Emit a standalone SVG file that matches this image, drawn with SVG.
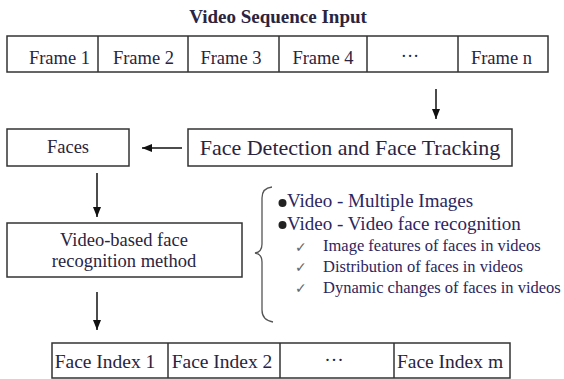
<svg xmlns="http://www.w3.org/2000/svg" width="564" height="379" viewBox="0 0 564 379">
<defs>
<marker id="ah" viewBox="0 0 10 8" refX="10" refY="4" markerWidth="10" markerHeight="8" markerUnits="userSpaceOnUse" orient="auto">
<path d="M0,0 L10,4 L0,8 Z" fill="#111"/>
</marker>
</defs>
<style>
.box{fill:#fff;stroke:#333;stroke-width:1.5}
.div{stroke:#333;stroke-width:1.5}
.t{font-family:"Liberation Serif","Times New Roman",serif;fill:#2a2440;text-anchor:middle}
.f{font-size:18.5px}
.fi{font-size:19.5px}
.l{font-family:"Liberation Serif","Times New Roman",serif;fill:#2c2660}
.c{font-family:"DejaVu Sans",sans-serif;font-size:14px;fill:#666}
.con{stroke:#111;stroke-width:1.5;fill:none;marker-end:url(#ah)}
</style>
<rect width="564" height="379" fill="#fff"/>
<g id="title">
<text class="t" x="278" y="23" font-size="19" font-weight="bold" fill="#1d1d33">Video Sequence Input</text>
</g>
<g id="frames">
<rect class="box" x="7" y="36" width="541" height="36"/>
<line class="div" x1="98" y1="36" x2="98" y2="72"/>
<line class="div" x1="188" y1="36" x2="188" y2="72"/>
<line class="div" x1="279" y1="36" x2="279" y2="72"/>
<line class="div" x1="367" y1="36" x2="367" y2="72"/>
<line class="div" x1="458" y1="36" x2="458" y2="72"/>
<text class="t f" x="59.5" y="64">Frame 1</text>
<text class="t f" x="143.5" y="64">Frame 2</text>
<text class="t f" x="231" y="64">Frame 3</text>
<text class="t f" x="323" y="64">Frame 4</text>
<text class="t f" x="410" y="62">···</text>
<text class="t f" x="501.5" y="64">Frame n</text>
</g>
<g id="faces">
<rect class="box" x="7" y="129" width="122" height="37"/>
<text class="t f" x="68" y="153">Faces</text>
</g>
<g id="detection">
<rect class="box" x="188" y="129" width="324" height="37"/>
<text class="t" x="350" y="155" font-size="22">Face Detection and Face Tracking</text>
</g>
<g id="method">
<rect class="box" x="7" y="223" width="235" height="54"/>
<text class="t" x="124" y="246" font-size="18.5">Video-based face</text>
<text class="t" x="124" y="267" font-size="18.5">recognition method</text>
</g>
<g id="index">
<rect class="box" x="52" y="343" width="458" height="35"/>
<line class="div" x1="168" y1="343" x2="168" y2="378"/>
<line class="div" x1="280" y1="343" x2="280" y2="378"/>
<line class="div" x1="394" y1="343" x2="394" y2="378"/>
<text class="t fi" x="105" y="368">Face Index 1</text>
<text class="t fi" x="222" y="368">Face Index 2</text>
<text class="t fi" x="334" y="366">···</text>
<text class="t fi" x="450" y="368">Face Index m</text>
</g>
<g id="notes">
<path d="M272,187 Q262,188 262,198 L262,244 Q262,252 255,253 Q262,254 262,262 L262,310 Q262,320 273,322" fill="none" stroke="#555" stroke-width="1.3"/>
<circle cx="282.5" cy="203" r="4" fill="#222"/>
<circle cx="282.5" cy="225" r="4" fill="#222"/>
<text class="l" x="287" y="207" font-size="19">Video - Multiple Images</text>
<text class="l" x="287" y="230" font-size="19">Video - Video face recognition</text>
<text class="c" x="295" y="252">✓</text>
<text class="c" x="295" y="272">✓</text>
<text class="c" x="295" y="293">✓</text>
<text class="l" x="323" y="251" font-size="16.5">Image features of faces in videos</text>
<text class="l" x="323" y="272" font-size="16.5">Distribution of faces in videos</text>
<text class="l" x="323" y="293" font-size="16.5">Dynamic changes of faces in videos</text>
</g>
<g id="connectors">
<line class="con" x1="436" y1="89" x2="436" y2="119"/>
<line class="con" x1="182" y1="148" x2="142" y2="148"/>
<line class="con" x1="97" y1="173" x2="97" y2="217"/>
<line class="con" x1="97" y1="292" x2="97" y2="330"/>
</g>
</svg>
